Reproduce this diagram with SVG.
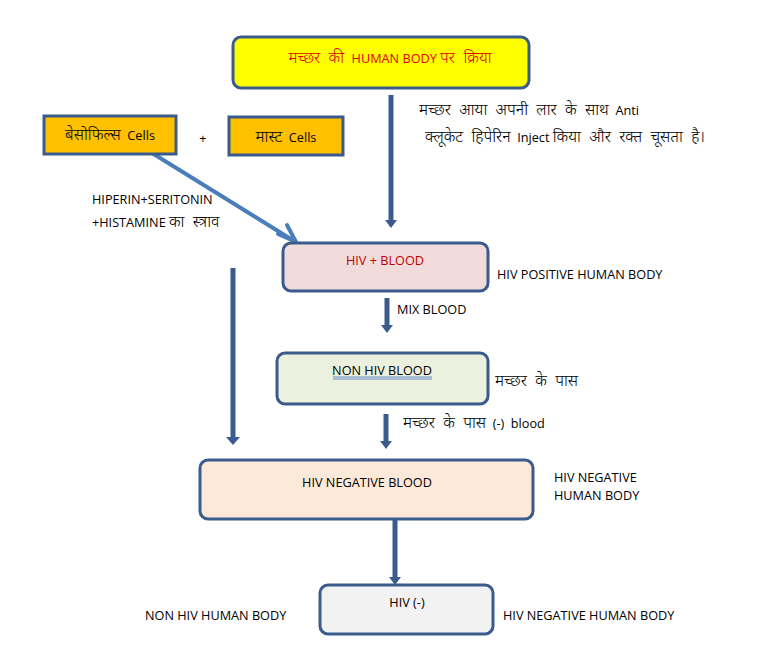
<svg xmlns="http://www.w3.org/2000/svg" width="781" height="670" viewBox="0 0 781 670">
<style>
text{font-family:"Open Sans","Noto Sans","Noto Sans Devanagari","Liberation Sans",sans-serif;font-size:12.7px;fill:#000;white-space:pre}
.dv{font-size:16px;font-weight:300}
.red{fill:#e00000}
.dred{fill:#c00000}
.box{stroke:#3b5b8c;stroke-width:3}
.shaft{stroke:#3b5b8c;stroke-width:5;fill:none}
.head{fill:#3b5b8c}
</style>
<rect width="781" height="670" fill="#fff"/>
<g id="connectors">
<line class="shaft" x1="391" y1="95" x2="391" y2="222"/><path class="head" d="M385,220 L397,220 L391,228 Z"/>
<line class="shaft" x1="233" y1="268" x2="233" y2="439"/><path class="head" d="M226,437 L240,437 L233,445 Z"/>
<line class="shaft" x1="387" y1="298" x2="387" y2="327"/><path class="head" d="M381,325 L393,325 L387,333 Z"/>
<line class="shaft" x1="386" y1="414" x2="386" y2="443"/><path class="head" d="M380,441 L392,441 L386,449 Z"/>
<line class="shaft" x1="395" y1="496" x2="395" y2="579"/><path class="head" d="M389,577 L401,577 L395,585 Z"/>
<path d="M152,153 L294,241" stroke="#4a7ebb" stroke-width="4" fill="none"/>
<path d="M287,225 L296,242 L278,234" stroke="#4a7ebb" stroke-width="4" fill="none" stroke-linejoin="round" stroke-linecap="round"/>
</g>
<g id="n-top">
<rect class="box" x="233" y="37" width="296" height="51" rx="8" fill="#ffff00"/>
<text class="red" x="390" y="63" text-anchor="middle"><tspan class="dv">मच्छर  की </tspan> HUMAN BODY <tspan class="dv">पर  क्रिया</tspan></text>
</g>
<g id="n-baso">
<rect class="box" x="44" y="116" width="132" height="38" fill="#ffc000"/>
<text x="110" y="140" text-anchor="middle"><tspan class="dv">बेसोफिल्स</tspan>  Cells</text>
</g>
<text x="203" y="143" text-anchor="middle">+</text>
<g id="n-mast">
<rect class="box" x="229" y="117" width="114" height="38" fill="#ffc000"/>
<text x="286" y="142" text-anchor="middle"><tspan class="dv">मास्ट</tspan>  Cells</text>
</g>
<g id="n-hivpos">
<rect class="box" x="283" y="243" width="205" height="48" rx="8" fill="#f2dcdb"/>
<text class="dred" x="385" y="265" text-anchor="middle">HIV + BLOOD</text>
</g>
<g id="n-nonhiv">
<rect class="box" x="277" y="353" width="211" height="51" rx="8" fill="#ebf1de"/>
<text x="382" y="375" text-anchor="middle">NON HIV BLOOD</text>
<line x1="333" y1="377" x2="432" y2="377" stroke="#4472c4" stroke-width="0.8"/>
<line x1="333" y1="379" x2="432" y2="379" stroke="#4472c4" stroke-width="0.8"/>
</g>
<g id="n-hivneg">
<rect class="box" x="200" y="460" width="333" height="59" rx="8" fill="#fde9d9"/>
<text x="367" y="487" text-anchor="middle">HIV NEGATIVE BLOOD</text>
</g>
<g id="n-hivminus">
<rect class="box" x="320" y="585" width="173" height="49" rx="8" fill="#f2f2f2"/>
<text x="407" y="607" text-anchor="middle">HIV (-)</text>
</g>
<g id="labels">
<text x="419" y="115"><tspan class="dv">मच्छर  आया  अपनी  लार  के  साथ</tspan>  Anti</text>
<text x="425" y="142"><tspan class="dv">क्लूकेट  हिपेरिन</tspan>  Inject <tspan class="dv">किया  और  रक्त  चूसता  है।</tspan></text>
<text x="92" y="204">HIPERIN+SERITONIN</text>
<text x="92" y="227">+HISTAMINE <tspan class="dv">का  स्त्राव</tspan></text>
<text x="497" y="279">HIV POSITIVE HUMAN BODY</text>
<text x="397" y="314">MIX BLOOD</text>
<text x="495" y="386" class="dv">मच्छर  के  पास</text>
<text x="403" y="428"><tspan class="dv">मच्छर  के  पास</tspan>  (-)  blood</text>
<text x="554" y="482">HIV NEGATIVE</text>
<text x="554" y="500">HUMAN BODY</text>
<text x="145" y="620">NON HIV HUMAN BODY</text>
<text x="503" y="620">HIV NEGATIVE HUMAN BODY</text>
</g>
</svg>
